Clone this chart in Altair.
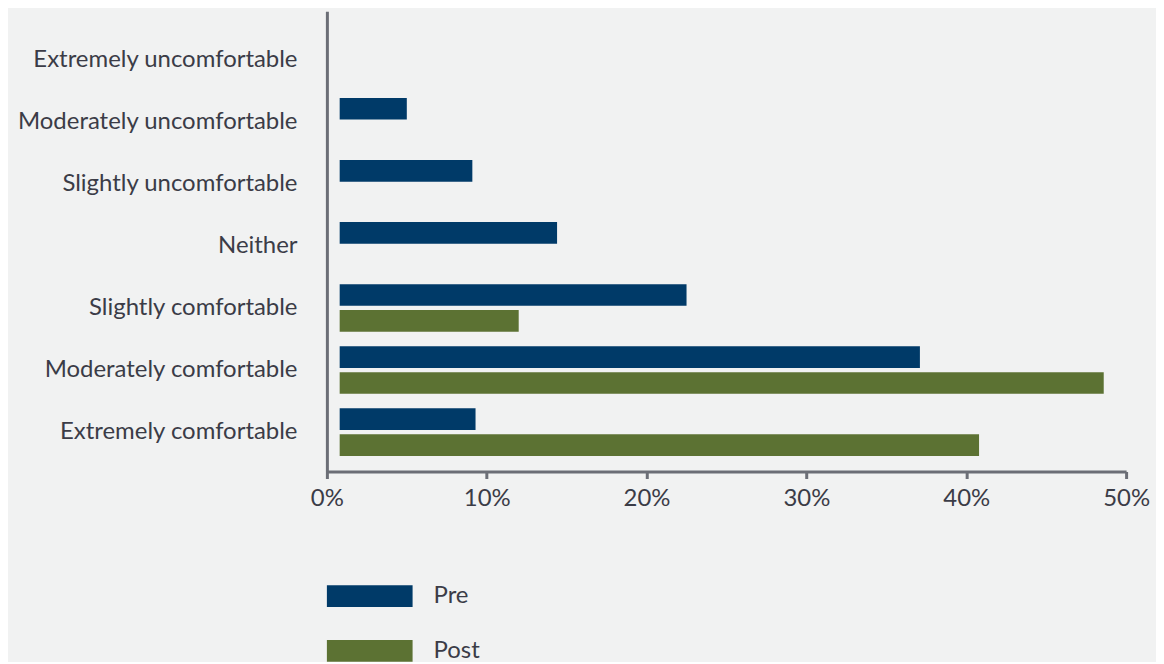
import altair as alt
import pandas as pd

categories = [
    "Extremely uncomfortable",
    "Moderately uncomfortable",
    "Slightly uncomfortable",
    "Neither",
    "Slightly comfortable",
    "Moderately comfortable",
    "Extremely comfortable",
]
series = ["Pre", "Post"]
pre_values = [None, 5.0, 9.1, 14.4, 22.5, 37.1, 9.3]
post_values = [None, None, None, None, 12.0, 48.6, 40.8]
x_ticks = [0, 10, 20, 30, 40, 50]
colors = ["#003a68", "#5c7233"]

rows = []
for c, p, q in zip(categories, pre_values, post_values):
    rows.append({"category": c, "series": "Pre", "value": p})
    rows.append({"category": c, "series": "Post", "value": q})
df = pd.DataFrame(rows)

FONT = "Lato"
TEXT = "#3b3c47"
AXIS = "#6b6e76"
SIZE = 24

chart = (
    alt.Chart(df)
    .transform_filter("isValid(datum.value)")
    .mark_bar()
    .encode(
        y=alt.Y(
            "category:N",
            scale=alt.Scale(domain=categories, paddingInner=0, paddingOuter=0.208, align=0.676),
            axis=alt.Axis(
                title=None, ticks=False, labelPadding=30, domainColor=AXIS, domainWidth=3,
                labelFontSize=SIZE, labelColor=TEXT, labelFont=FONT, grid=False,
                labelLimit=400,
            ),
        ),
        yOffset=alt.YOffset(
            "series:N",
            scale=alt.Scale(domain=series, paddingInner=0.165, paddingOuter=0.28),
        ),
        x=alt.X(
            "value:Q",
            scale=alt.Scale(domain=[0, 50], nice=False),
            axis=alt.Axis(
                values=x_ticks, labelExpr="datum.value + '%'", title=None, grid=False,
                domainColor=AXIS, domainWidth=3, tickColor=AXIS, tickWidth=3, tickSize=7,
                labelFontSize=SIZE, labelColor=TEXT, labelFont=FONT, labelPadding=8,
                labelFlush=False,
            ),
        ),
        x2=alt.datum(0.8),
        color=alt.Color(
            "series:N",
            scale=alt.Scale(domain=series, range=colors),
            legend=alt.Legend(
                title=None, orient="none", legendX=0, legendY=544, direction="vertical",
                symbolType="M-1,-0.252H1V0.252H-1Z", symbolSize=7396, symbolStrokeWidth=0,
                labelFontSize=SIZE, labelColor=TEXT, labelFont=FONT, labelOffset=21,
                rowPadding=-40,
            ),
        ),
    )
    .properties(
        width=802,
        height=462,
        autosize=alt.AutoSizeParams(type="none"),
        padding={"left": 320, "top": 2, "right": 30, "bottom": 190},
        background="#f1f2f2",
    )
    .configure_view(stroke=None)
)

chart.save("out.html", embed_options={"renderer": "svg", "actions": False})
